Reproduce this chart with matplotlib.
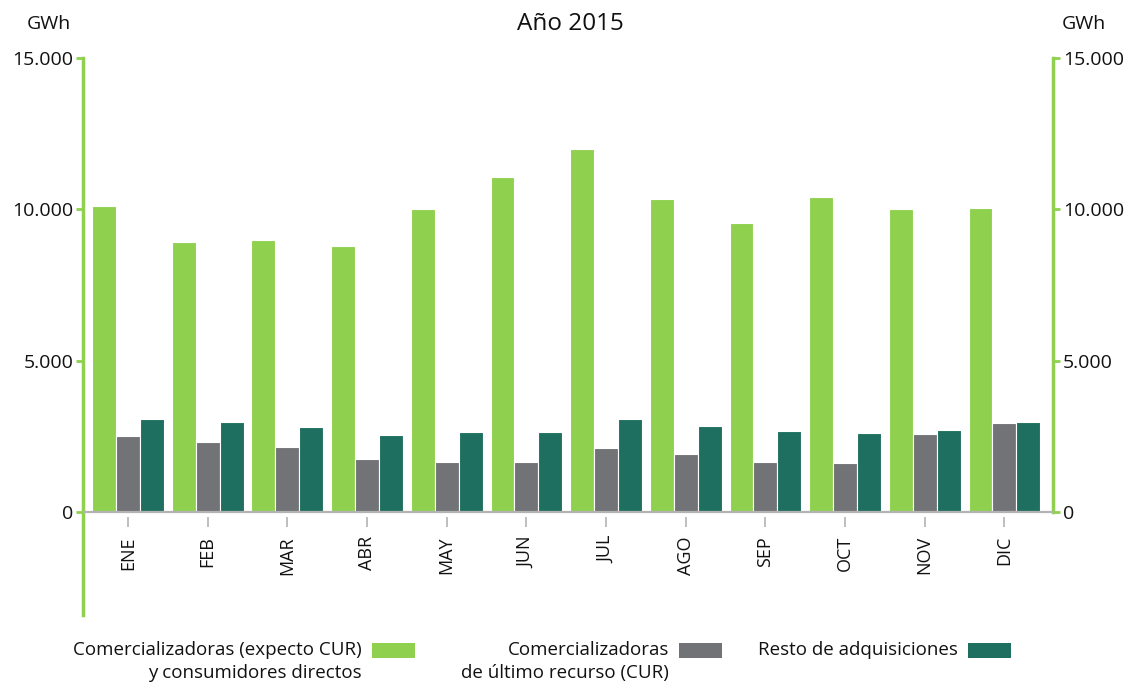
import matplotlib.pyplot as plt
from matplotlib.patches import Rectangle

plt.rcParams['font.family'] = ['Open Sans', 'DejaVu Sans']

# Data (GWh)
months = ['ENE', 'FEB', 'MAR', 'ABR', 'MAY', 'JUN', 'JUL', 'AGO', 'SEP', 'OCT', 'NOV', 'DIC']
comercializadoras = [10100, 8920, 8990, 8790, 10000, 11060, 12000, 10350, 9550, 10400, 10000, 10040]
cur = [2510, 2310, 2150, 1750, 1660, 1660, 2100, 1905, 1660, 1630, 2570, 2940]
resto = [3070, 2970, 2810, 2540, 2640, 2640, 3060, 2850, 2680, 2600, 2710, 2970]

series = [comercializadoras, cur, resto]
labels = ['Comercializadoras (expecto CUR)\ny consumidores directos',
          'Comercializadoras\nde último recurso (CUR)',
          'Resto de adquisiciones']
colors = ['#8fd14f', '#727377', '#1e6f5f']
yticks = [0, 5000, 10000, 15000]
ytick_labels = ['0', '5.000', '10.000', '15.000']

green = '#8fd14f'
text_color = '#111111'

fig = plt.figure(figsize=(11.29, 6.86), dpi=100)
ax = fig.add_axes([0.0735, 0.1035, 0.8592, 0.812])

x = list(range(len(months)))
width = 0.3
offsets = [-0.3, 0.0, 0.3]
for vals, off, col in zip(series, offsets, colors):
    ax.bar([i + off for i in x], vals, width=width, color=col,
           edgecolor='white', linewidth=0.8, zorder=2)

ax.set_xlim(-0.565, 11.61)
ax.set_ylim(-3400, 15000)

# baseline at zero
ax.axhline(0, color='#b3b3b3', linewidth=1.6, zorder=3)

# spines
ax.spines['top'].set_visible(False)
ax.spines['bottom'].set_position(('data', -150))
ax.spines['bottom'].set_visible(False)
ax.spines['left'].set_color(green)
ax.spines['left'].set_linewidth(2.5)
ax.spines['right'].set_color(green)
ax.spines['right'].set_linewidth(2.5)
ax.spines['right'].set_bounds(0, 15000)

ax.set_yticks(yticks)
ax.set_yticklabels(ytick_labels)
ax.tick_params(axis='y', which='both', left=True, right=True, labelleft=True,
               labelright=True, colors=green, length=5, width=2,
               labelsize=14, labelcolor=text_color, pad=2)

ax.set_xticks(x)
ax.set_xticklabels(months, rotation=90)
ax.tick_params(axis='x', length=7, width=1.2, color='#b3b3b3',
               labelsize=13, labelcolor=text_color, pad=7)

# titles and units
fig.text(0.505, 0.965, 'Año 2015', ha='center', va='center', fontsize=17.5, color=text_color)
fig.text(0.024, 0.965, 'GWh', ha='left', va='center', fontsize=14, color=text_color)
fig.text(0.940, 0.965, 'GWh', ha='left', va='center', fontsize=14, color=text_color)

# legend (text on the left, swatch on the right)
legend_right = [362, 669, 958]
for lab, col, xr in zip(labels, colors, legend_right):
    fig.text(xr / 1129, 1 - 641 / 686, lab, ha='right', va='top', fontsize=13.5,
             color=text_color, multialignment='right', linespacing=1.38)
    fig.add_artist(Rectangle(((xr + 10) / 1129, 1 - 658 / 686), 43 / 1129, 15 / 686,
                             transform=fig.transFigure, facecolor=col, edgecolor='none'))

fig.savefig('out.png', dpi=100)
